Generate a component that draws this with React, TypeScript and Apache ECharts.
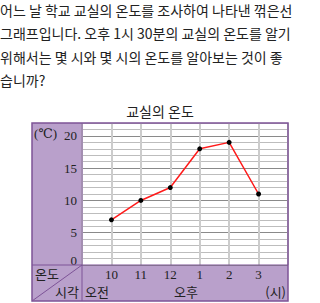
import React, { useEffect, useRef } from "react";
import * as echarts from "echarts";

const questionLines = [
  "어느 날 학교 교실의 온도를 조사하여 나타낸 꺾은선",
  "그래프입니다. 오후 1시 30분의 교실의 온도를 알기",
  "위해서는 몇 시와 몇 시의 온도를 알아보는 것이 좋",
  "습니까?",
];
const chartTitle = "교실의 온도";
const hours = [10, 11, 12, 13, 14, 15];
const hourLabels = ["10", "11", "12", "1", "2", "3"];
const temps = [7, 10, 12, 18, 19, 11];
const yTickLabels = [0, 5, 10, 15, 20];
const unitLabel = "(℃)";
const rowLabel = "온도";
const colLabel = "시각";
const amLabel = "오전";
const pmLabel = "오후";
const hourUnit = "(시)";

const PURPLE = "#b9a0cb";
const BORDER = "#7d5397";
const SERIF = "'Liberation Serif', 'DejaVu Serif', 'Noto Sans CJK KR', serif";
const SANS = "'Noto Sans CJK KR', sans-serif";

export default function App() {
  const ref = useRef<HTMLDivElement>(null);
  useEffect(() => {
    if (!ref.current) return;
    const chart = echarts.init(ref.current, undefined, { renderer: "svg" });
    const L = 32, T = 123, R = 288, B = 301, PL = 82, PB = 265;
    const splitColors: string[] = [];
    for (let i = 0; i <= 22; i++) splitColors.push(i % 5 === 0 ? "#8a8a8a" : "#bdbdbd");
    const graphics: any[] = [
      { type: "rect", z: -10, shape: { x: L, y: T, width: R - L, height: B - T }, style: { fill: PURPLE } },
      { type: "rect", z: -9, shape: { x: PL, y: T, width: R - PL, height: PB - T }, style: { fill: "#ffffff" } },
      { type: "rect", z: 100, shape: { x: L, y: T, width: R - L, height: B - T }, style: { fill: "none", stroke: BORDER, lineWidth: 1.5 } },
      { type: "line", z: 100, shape: { x1: PL, y1: T, x2: PL, y2: B }, style: { stroke: BORDER, lineWidth: 1 } },
      { type: "line", z: 100, shape: { x1: L, y1: PB, x2: R, y2: PB }, style: { stroke: BORDER, lineWidth: 1 } },
      { type: "line", z: 100, shape: { x1: L, y1: B, x2: PL, y2: PB }, style: { stroke: BORDER, lineWidth: 1 } },
      { type: "text", z: 100, x: 34, y: 133, style: { text: unitLabel, font: `13px ${SERIF}`, fill: "#222", verticalAlign: "middle" } },
      { type: "text", z: 100, x: 35, y: 273, style: { text: rowLabel, font: `13px ${SANS}`, fill: "#222", verticalAlign: "middle" } },
      { type: "text", z: 100, x: 79, y: 291, style: { text: colLabel, font: `13px ${SANS}`, fill: "#222", align: "right", verticalAlign: "middle" } },
      { type: "text", z: 100, x: 85, y: 291, style: { text: amLabel, font: `13px ${SANS}`, fill: "#222", verticalAlign: "middle" } },
      { type: "text", z: 100, x: 186, y: 291, style: { text: pmLabel, font: `13px ${SANS}`, fill: "#222", align: "center", verticalAlign: "middle" } },
      { type: "text", z: 100, x: 286, y: 291, style: { text: hourUnit, font: `13px ${SANS}`, fill: "#222", align: "right", verticalAlign: "middle" } },
    ];
    questionLines.forEach((t, i) => {
      graphics.push({
        type: "text", x: 0, y: 10 + i * 23.3,
        style: { text: t, font: `14px ${SANS}`, fill: "#222", verticalAlign: "middle" },
      });
    });
    chart.setOption({
      animation: false,
      title: {
        text: chartTitle, left: "center", top: 99,
        textStyle: { fontSize: 14, fontWeight: "normal", color: "#222", fontFamily: SANS },
      },
      grid: { left: PL, top: T, right: 320 - R, bottom: 303 - PB, show: false },
      xAxis: {
        type: "value", min: 9, max: 16, interval: 1,
        axisLine: { show: false }, axisTick: { show: false },
        splitLine: { show: true, lineStyle: { color: "#cccccc", width: 2 } },
        axisLabel: {
          margin: 3, fontSize: 13, color: "#222", fontFamily: SERIF,
          formatter: (v: number) => { const i = hours.indexOf(v); return i >= 0 ? hourLabels[i] : ""; },
        },
      },
      yAxis: {
        type: "value", min: 0, max: 22, interval: 1,
        axisLine: { show: false }, axisTick: { show: false },
        splitLine: { show: true, lineStyle: { color: splitColors, width: 1 } },
        axisLabel: {
          margin: 5, fontSize: 13, color: "#222", fontFamily: SERIF,
          formatter: (v: number) => {
            if (yTickLabels.indexOf(v) < 0) return "";
            return v === 0 ? "{z|0}" : String(v);
          },
          rich: { z: { fontSize: 13, color: "#222", fontFamily: SERIF, padding: [0, 0, 10, 0] } },
        },
      },
      series: [{
        type: "line",
        data: hours.map((h, i) => [h, temps[i]]),
        symbol: "circle", symbolSize: 5,
        itemStyle: { color: "#000" },
        lineStyle: { color: "#ff1a1a", width: 1.5 },
        z: 50,
      }],
      graphic: graphics,
    });
    return () => chart.dispose();
  }, []);
  return <div ref={ref} style={{ position: "fixed", left: 0, top: 0, width: 320, height: 303, background: "#fff" }} />;
}
